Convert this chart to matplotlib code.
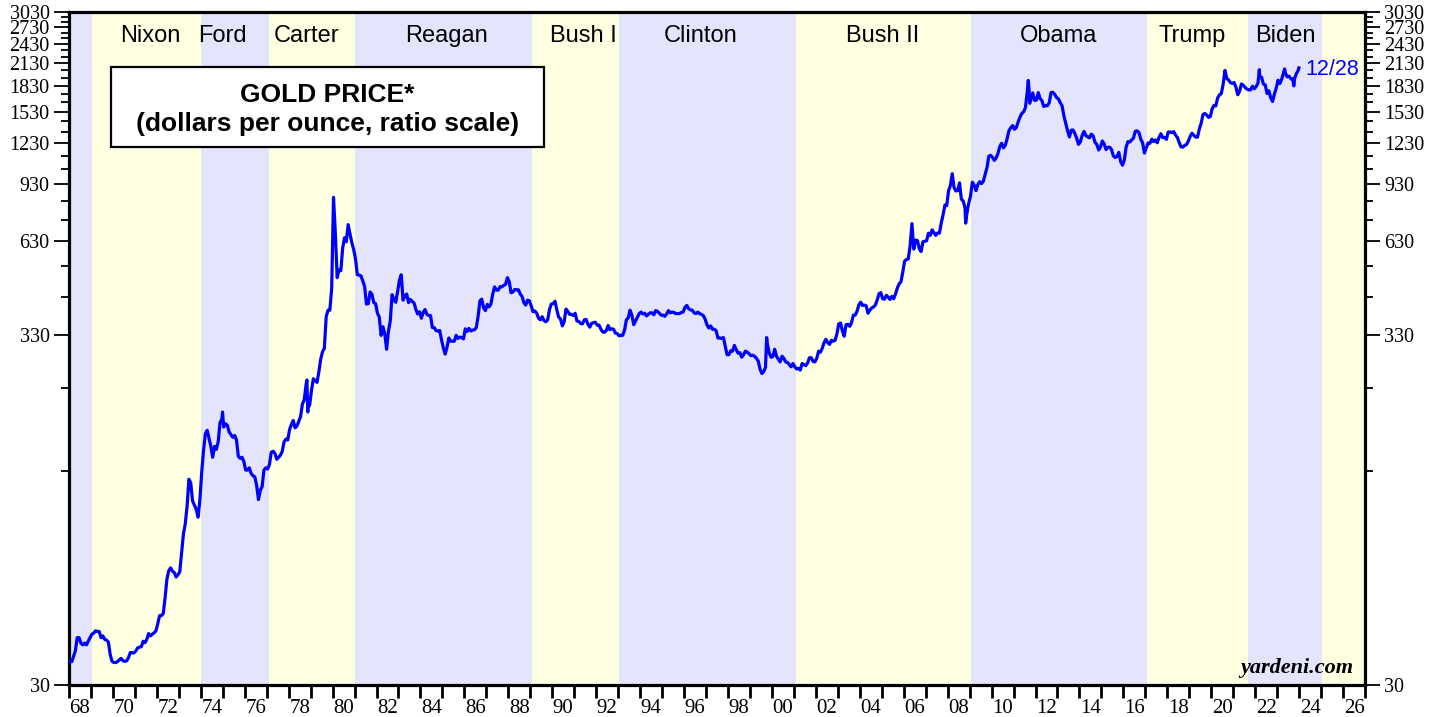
import numpy as np
import matplotlib
matplotlib.use("Agg")
import matplotlib.pyplot as plt
from matplotlib.ticker import FixedLocator, NullFormatter, FixedFormatter
from matplotlib.patches import Rectangle

# ---------------- data ----------------
# monthly gold price (USD/oz), Jan 1968 .. Dec 2023
price_1968_1979 = [
    35.2, 35.2, 36.5, 38.0, 41.5, 41.5, 40.0, 39.5, 40.0, 39.5, 40.5, 41.5,
    42.5, 42.8, 43.5, 43.3, 43.3, 41.5, 42.0, 41.0, 40.8, 40.3, 37.0, 35.3,
    35.0, 35.0, 35.2, 35.7, 36.0, 35.4, 35.3, 35.4, 36.2, 37.5, 37.4, 37.4,
    37.9, 38.7, 38.9, 39.0, 40.5, 40.1, 41.0, 42.7, 42.0, 42.5, 42.9, 43.5,
    45.7, 48.3, 48.3, 49.0, 54.6, 62.1, 65.7, 67.0, 65.5, 64.9, 62.9, 63.9,
    65.1, 74.2, 84.4, 90.5, 102.0, 123.0, 120.0, 106.0, 103.0, 100.1, 94.8, 106.7,
    129, 150, 168, 172, 163, 154, 143, 154, 151, 159, 181, 186,
    176, 180, 178, 170, 167, 164, 166, 161, 144, 142, 143, 139,
    131, 131, 133, 128, 126, 125, 118, 107, 114, 117, 131, 133,
    132, 136, 148, 149, 147, 141, 143, 145, 149, 159, 162, 161,
    173, 179, 184, 175, 177, 183, 189, 206, 212, 235, 200, 205,
    227, 245, 242, 239, 257, 280, 295, 302, 375, 392, 392, 455,
]
price_1980_1991 = [
    850, 665, 490, 517, 514, 600, 644, 627, 705, 662, 623, 595,
    558, 500, 499, 496, 479, 461, 409, 410, 444, 437, 413, 410,
    384, 374, 330, 350, 333, 300, 339, 364, 436, 422, 414, 445,
    481, 500, 420, 432, 438, 413, 422, 416, 412, 394, 382, 388,
    371, 386, 394, 381, 378, 378, 348, 348, 341, 340, 341, 320,
    303, 290, 304, 324, 317, 317, 317, 330, 323, 326, 325, 322,
    345, 339, 346, 340, 342, 343, 348, 376, 418, 423, 398, 391,
    408, 401, 409, 438, 460, 450, 450, 461, 460, 465, 468, 490,
    477, 442, 444, 452, 451, 451, 438, 431, 413, 406, 420, 418,
    404, 388, 390, 384, 371, 367, 375, 365, 362, 367, 394, 409,
    410, 417, 393, 374, 369, 352, 362, 395, 389, 381, 381, 378,
    384, 364, 363, 358, 357, 367, 368, 356, 349, 358, 360, 361,
]
price_1992_2003 = [
    354, 354, 345, 338, 337, 341, 353, 343, 345, 344, 335, 334,
    329, 330, 330, 342, 367, 372, 392, 379, 355, 364, 373, 383,
    387, 382, 384, 377, 381, 385, 385, 380, 391, 389, 384, 379,
    379, 376, 382, 391, 385, 387, 386, 383, 383, 383, 386, 387,
    400, 405, 396, 393, 392, 385, 383, 387, 383, 381, 378, 369,
    355, 347, 352, 344, 344, 341, 324, 324, 323, 325, 306, 289,
    289, 297, 296, 308, 299, 292, 293, 284, 289, 296, 294, 291,
    287, 288, 286, 282, 277, 262, 254, 257, 265, 311, 293, 284,
    285, 300, 286, 280, 275, 286, 282, 275, 274, 270, 266, 272,
    266, 262, 263, 260, 272, 270, 268, 273, 283, 283, 276, 275,
    282, 296, 294, 302, 314, 321, 314, 310, 319, 317, 319, 333,
    357, 359, 340, 328, 355, 356, 351, 360, 379, 379, 389, 407,
]
price_2004_2015 = [
    414, 405, 406, 404, 384, 392, 398, 401, 406, 420, 439, 442,
    424, 423, 434, 429, 422, 431, 424, 438, 456, 470, 476, 510,
    549, 555, 557, 610, 710, 596, 634, 632, 598, 586, 627, 629,
    631, 665, 655, 680, 668, 655, 666, 665, 713, 754, 806, 803,
    889, 922, 1000, 909, 888, 890, 939, 839, 829, 790, 760, 816,
    858, 943, 924, 890, 928, 946, 934, 949, 996, 1043, 1127, 1134,
    1118, 1095, 1114, 1149, 1205, 1232, 1193, 1215, 1271, 1343, 1370, 1391,
    1356, 1372, 1424, 1474, 1510, 1529, 1572, 1756, 1772, 1665, 1739, 1652,
    1656, 1743, 1674, 1650, 1585, 1596, 1594, 1626, 1745, 1747, 1722, 1685,
    1671, 1627, 1593, 1487, 1414, 1343, 1286, 1347, 1349, 1316, 1275, 1222,
    1244, 1300, 1336, 1299, 1287, 1279, 1311, 1296, 1239, 1222, 1176, 1201,
    1251, 1227, 1179, 1198, 1199, 1181, 1131, 1117, 1125, 1157, 1086, 1060,
]
price_2016_2023 = [
    1097, 1199, 1246, 1242, 1260, 1276, 1337, 1341, 1326, 1267, 1236, 1152,
    1192, 1234, 1231, 1267, 1246, 1260, 1236, 1283, 1315, 1280, 1283, 1265,
    1331, 1331, 1325, 1334, 1303, 1282, 1238, 1202, 1199, 1215, 1221, 1250,
    1292, 1320, 1300, 1285, 1284, 1359, 1413, 1500, 1511, 1495, 1471, 1480,
    1560, 1597, 1592, 1681, 1716, 1732, 1846, 2030, 1921, 1900, 1866, 1858,
    1867, 1808, 1718, 1760, 1850, 1834, 1807, 1785, 1776, 1777, 1821, 1790,
    1817, 1856, 1948, 1937, 1849, 1837, 1733, 1765, 1681, 1640, 1726, 1798,
    1898, 1855, 1912, 2000, 1992, 1942, 1951, 1918, 1916, 1916, 1985, 2030,
]
# extra daily extremes (decimal year, price)
spike_dates = [1968.0, 1974.99, 1978.83, 1978.87, 1999.76, 2008.82,
               2011.67, 2011.74, 2022.19, 2023.34, 2023.76, 2023.99]
spike_prices = [35.2, 195, 243, 195, 325, 712,
                1895, 1620, 2040, 2050, 1825, 2065]

start_year = 1968
# presidential terms
term_starts = [1968.0, 1969.05, 1974.0, 1977.1, 1981.0, 1989.1, 1993.05,
               2001.1, 2009.05, 2017.07, 2021.68, 2025.05]
term_ends = term_starts[1:] + [2027.0]
term_names = ["", "Nixon", "Ford", "Carter", "Reagan", "Bush I", "Clinton",
              "Bush II", "Obama", "Trump", "Biden", ""]
label_x = [None, 1971.69, 1974.97, 1978.8, 1985.18, 1991.43, 1996.76,
           2005.05, 2013.03, 2019.14, 2023.38, None]

y_major = [30, 330, 630, 930, 1230, 1530, 1830, 2130, 2430, 2730, 3030]
y_minor = [130, 230, 430, 530, 730, 830, 1030, 1130, 1330, 1430, 1630,
           1730, 1930, 2030, 2230, 2330, 2530, 2630, 2830, 2930]
x_years = list(range(1968, 2028))
x_label_years = list(range(1968, 2027, 2))

# ---------------- assemble ----------------
monthly = price_1968_1979 + price_1980_1991 + price_1992_2003 + price_2004_2015 + price_2016_2023
mdates = [start_year + (i + 0.5) / 12.0 for i in range(len(monthly))]
dates = np.array(mdates + spike_dates)
prices = np.array(monthly + spike_prices, dtype=float)
order = np.argsort(dates)
dates, prices = dates[order], prices[order]

# ---------------- figure ----------------
W, H = 1442, 717
fig = plt.figure(figsize=(W / 100, H / 100), dpi=100)
ax = fig.add_axes([69 / W, 1 - 685 / H, (1365 - 69) / W, (685 - 12) / H])

lav = "#E4E4FC"
yel = "#FFFFE2"
for i, (s, e) in enumerate(zip(term_starts, term_ends)):
    ax.axvspan(s, e, color=lav if i % 2 == 0 else yel, lw=0, zorder=0)

ax.plot(dates, prices, color="#0000FF", lw=2.3, zorder=3, solid_joinstyle="round")

ax.set_yscale("log")
ax.set_ylim(30, 3030)
ax.set_xlim(1968, 2027)

serif = "Liberation Serif"
sans = "Liberation Sans"

ax.yaxis.set_major_locator(FixedLocator(y_major))
ax.yaxis.set_major_formatter(FixedFormatter([str(v) for v in y_major]))
ax.yaxis.set_minor_locator(FixedLocator(y_minor))
ax.yaxis.set_minor_formatter(NullFormatter())
ax.tick_params(axis="y", which="major", direction="out", length=11, width=1.3,
               left=True, right=True, labelleft=True, labelright=True, pad=3,
               labelsize=14.5)
ax.tick_params(axis="y", which="minor", direction="out", length=5.5, width=1.3,
               left=True, right=True)

ax.xaxis.set_major_locator(FixedLocator(x_years))
ax.xaxis.set_major_formatter(NullFormatter())
ax.xaxis.set_minor_locator(FixedLocator([y + 0.5 for y in x_label_years]))
ax.xaxis.set_minor_formatter(FixedFormatter([f"{y % 100:02d}" for y in x_label_years]))
ax.tick_params(axis="x", which="major", direction="out", length=9, width=2.0)
ax.tick_params(axis="x", which="minor", length=0, pad=10, labelsize=15)

for lab in ax.get_xticklabels(minor=True) + ax.get_yticklabels():
    lab.set_fontfamily(serif)
for lab in ax.yaxis.get_ticklabels(which="major"):
    lab.set_fontfamily(serif)

for sp in ax.spines.values():
    sp.set_linewidth(2.3)
    sp.set_color("black")

# president names
for name, lx in zip(term_names, label_x):
    if name:
        ax.text(lx, (685 - 36) / 673, name, transform=ax.get_xaxis_transform(),
                ha="center", va="center", fontsize=17, family=sans, zorder=4)

# title box
bx0, bx1, by0, by1 = 111, 544, 67, 147
fig.patches.append(Rectangle((bx0 / W, 1 - by1 / H), (bx1 - bx0) / W, (by1 - by0) / H,
                             transform=fig.transFigure, facecolor="white",
                             edgecolor="black", lw=1.6, zorder=5))
cx = (bx0 + bx1) / 2 / W
fig.text(cx, 1 - 95 / H, "GOLD PRICE*", ha="center", va="center", fontsize=19,
         fontweight="bold", family=sans, zorder=6)
fig.text(cx, 1 - 124 / H, "(dollars per ounce, ratio scale)", ha="center", va="center",
         fontsize=19, fontweight="bold", family=sans, zorder=6)

# last-date label
ax.annotate("12/28", xy=(dates[-1], prices[-1]), xytext=(5, -1), textcoords="offset points",
            ha="left", va="center", color="#0000FF", fontsize=15.5, family=sans, zorder=4)

ax.text(0.9907, (685 - 668) / 673, "yardeni.com", transform=ax.transAxes, ha="right",
        va="center", fontsize=16, fontweight="bold", style="italic", family=serif, zorder=4)

fig.savefig("out.png", dpi=100)
